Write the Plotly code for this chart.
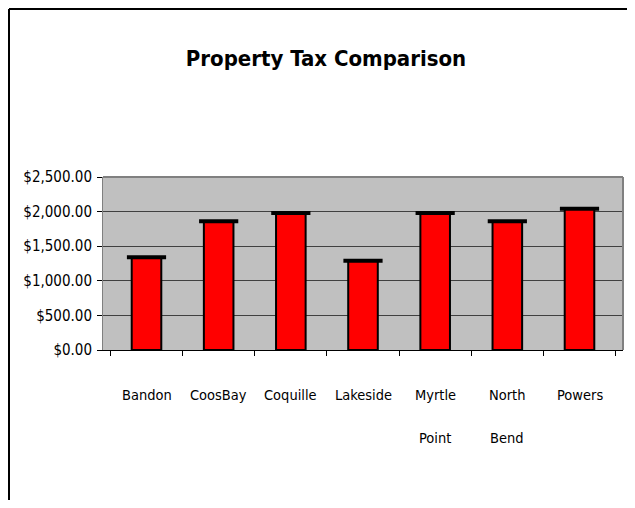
import plotly.graph_objects as go

categories = ["Bandon", "CoosBay", "Coquille", "Lakeside", "Myrtle Point", "North Bend", "Powers"]
tax_values = [1340, 1860, 1980, 1290, 1980, 1860, 2040]
y_ticks = [0, 500, 1000, 1500, 2000, 2500]
y_tick_labels = ["$0.00", "$500.00", "$1,000.00", "$1,500.00", "$2,000.00", "$2,500.00"]

FONT = "Liberation Sans Narrow, Arial Narrow, DejaVu Sans Condensed, sans-serif"

# The page body has an 8px margin, so figure pixel = reference pixel - 8
OFF = 8
W, H = 619, 492
L, T = 103 - OFF, 177 - OFF
R = W - (623 - OFF)
B = H - (350 - OFF)
pw, ph = W - L - R, H - T - B


def px_x(x):
    return (x - OFF - L) / pw


def px_y(y):
    return 1 - (y - OFF - T) / ph


fig = go.Figure()
fig.add_trace(go.Bar(
    x=categories, y=tax_values,
    marker=dict(color="#FF0000", line=dict(color="#000000", width=2)),
    width=0.41,
    showlegend=False, hoverinfo="x+y",
))
fig.add_trace(go.Scatter(
    x=categories, y=tax_values, mode="markers",
    marker=dict(symbol="line-ew", size=28, line=dict(color="#000000", width=4)),
    showlegend=False, hoverinfo="skip",
))

# category labels, one annotation per line of text
annotations = []
for cat in categories:
    for i, part in enumerate(cat.split(" ")):
        annotations.append(dict(
            x=cat, xref="x", y=0, yref="paper",
            text=part, showarrow=False,
            yanchor="middle", xanchor="center",
            yshift=-(45 + 43 * i),
            font=dict(size=14.5, family=FONT, color="#000000"),
        ))

fig.update_layout(
    width=W, height=H,
    margin=dict(l=L, r=R, t=T, b=B, autoexpand=False),
    paper_bgcolor="white",
    plot_bgcolor="#C0C0C0",
    font=dict(family=FONT, color="#000000", size=15),
    title=dict(text="<b>Property Tax Comparison</b>", xref="container", x=(326 - OFF) / W,
               xanchor="center", yref="container", y=1 - (58 - OFF) / H, yanchor="middle",
               font=dict(size=22, family=FONT)),
    xaxis=dict(
        showline=True, linecolor="#000000", linewidth=1,
        ticks="outside", ticklen=5, tickcolor="#000000", tickson="boundaries",
        showticklabels=False,
        showgrid=False, fixedrange=True, automargin=False,
    ),
    yaxis=dict(
        range=[0, 2500], tickvals=y_ticks, ticktext=y_tick_labels,
        showline=True, linecolor="#808080", linewidth=1,
        ticks="outside", ticklen=5, tickcolor="#000000",
        ticklabelstandoff=2, tickfont=dict(size=15),
        showgrid=True, gridcolor="#404040", gridwidth=1,
        zeroline=False, fixedrange=True, automargin=False,
    ),
    annotations=annotations,
    shapes=[
        dict(type="line", xref="paper", yref="paper", x0=0, x1=1, y0=1, y1=1,
             line=dict(color="#808080", width=2)),
        dict(type="line", xref="paper", yref="paper", x0=1, x1=1, y0=0, y1=1,
             line=dict(color="#808080", width=2)),
        dict(type="line", xref="paper", yref="paper", x0=px_x(9), x1=px_x(9),
             y0=px_y(9), y1=px_y(520), line=dict(color="#000000", width=2)),
        dict(type="line", xref="paper", yref="paper", x0=px_x(9), x1=px_x(650),
             y0=px_y(9), y1=px_y(9), line=dict(color="#000000", width=2)),
    ],
)

fig.write_html("out.html")
